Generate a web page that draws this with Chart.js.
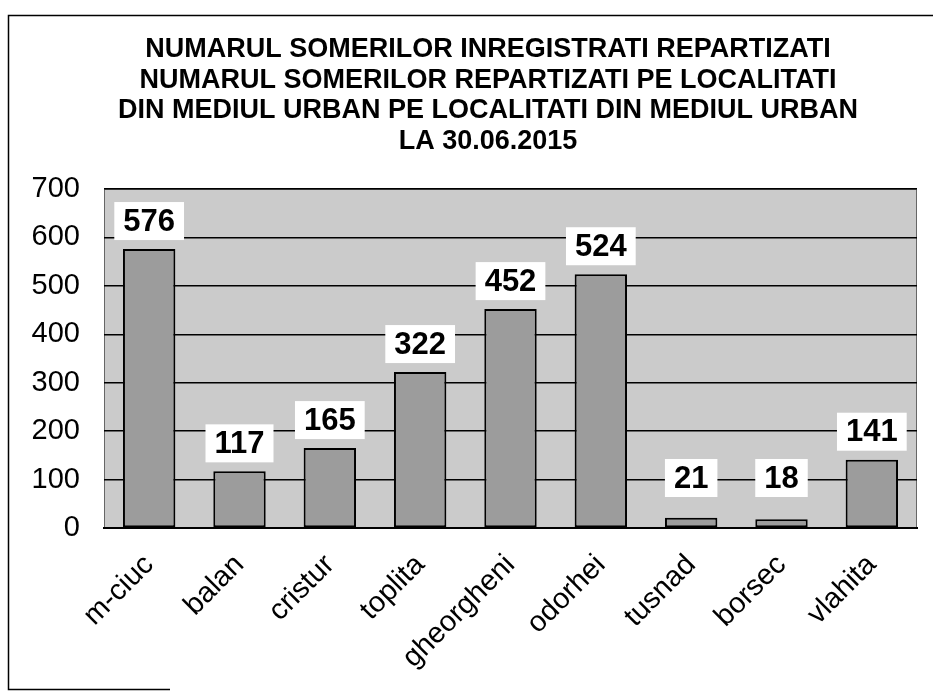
<!DOCTYPE html>
<html>
<head>
<meta charset="utf-8">
<script src="https://cdn.jsdelivr.net/npm/chart.js@4/dist/chart.umd.min.js"></script>
<style>
html,body{margin:0;padding:0;background:#fff;}
#wrap{width:933px;height:691px;position:relative;}
</style>
</head>
<body>
<div id="wrap"><canvas id="c" width="933" height="691"></canvas></div>
<script>
const categories = ["m-ciuc","balan","cristur","toplita","gheorgheni","odorhei","tusnad","borsec","vlahita"];
const values = [576,117,165,322,452,524,21,18,141];
const yTicks = [0,100,200,300,400,500,600,700];
const titleLines = [
  "NUMARUL SOMERILOR INREGISTRATI REPARTIZATI",
  "NUMARUL SOMERILOR REPARTIZATI PE LOCALITATI",
  "DIN MEDIUL URBAN PE LOCALITATI DIN MEDIUL URBAN",
  "LA 30.06.2015"
];

const FONT = "'Liberation Sans', Arial, sans-serif";
Chart.defaults.font.family = FONT;
Chart.defaults.color = '#000';

const plotBg = {
  id: 'plotBg',
  beforeDraw(chart) {
    const {ctx, chartArea: a} = chart;
    ctx.save();
    ctx.fillStyle = '#cbcbcb';
    ctx.fillRect(a.left, a.top, a.right - a.left, a.bottom - a.top);
    ctx.strokeStyle = '#666';
    ctx.lineWidth = 1;
    ctx.strokeRect(a.left + 0.5, a.top + 0.5, a.right - a.left - 1, a.bottom - a.top - 1);
    ctx.restore();
  },
  afterDraw(chart) {
    const {ctx} = chart;
    ctx.save();
    ctx.strokeStyle = '#000';
    ctx.lineWidth = 1.5;
    ctx.beginPath();
    ctx.moveTo(933, 15.5); ctx.lineTo(8.5, 15.5); ctx.lineTo(8.5, 689.5); ctx.lineTo(170, 689.5);
    ctx.stroke();
    // title
    ctx.fillStyle = '#000';
    ctx.font = "bold 27px " + FONT;
    ctx.textAlign = 'center';
    ctx.textBaseline = 'middle';
    titleLines.forEach((t, i) => ctx.fillText(t, 488, 50 + i * 30.5));
    ctx.restore();
  }
};

const valueLabels = {
  id: 'valueLabels',
  afterDatasetsDraw(chart) {
    const {ctx} = chart;
    const meta = chart.getDatasetMeta(0);
    const yScale = chart.scales.y;
    const zeroY = yScale.getPixelForValue(0);
    ctx.save();
    ctx.font = "bold 31px " + FONT;
    ctx.textAlign = 'center';
    ctx.textBaseline = 'middle';
    meta.data.forEach((bar, i) => {
      const txt = String(values[i]);
      const cy = Math.min(bar.y - 28, zeroY - 50);
      const w = ctx.measureText(txt).width + 18;
      const h = 38;
      ctx.fillStyle = '#fff';
      ctx.fillRect(bar.x - w / 2, cy - h / 2, w, h);
      ctx.fillStyle = '#000';
      ctx.fillText(txt, bar.x, cy + 1);
    });
    ctx.restore();
  }
};

new Chart(document.getElementById('c'), {
  type: 'bar',
  data: {
    labels: categories,
    datasets: [{
      data: values,
      backgroundColor: '#9c9c9c',
      borderColor: '#000',
      borderWidth: 2,
      borderSkipped: false,
      categoryPercentage: 1,
      barPercentage: 0.58
    }]
  },
  options: {
    responsive: false,
    animation: false,
    devicePixelRatio: 1,
    layout: { padding: { left: 0, right: 16, top: 189, bottom: 0 } },
    plugins: {
      legend: { display: false },
      tooltip: { enabled: false },
      title: { display: false }
    },
    scales: {
      x: {
        grid: { display: false, drawTicks: false },
        border: { display: true, color: '#000', width: 2 },
        ticks: { font: { size: 29 }, color: '#000', minRotation: 45, maxRotation: 45, padding: 20, autoSkip: false },
        afterFit(s) { s.height = 163; }
      },
      y: {
        min: 0, max: 700,
        afterBuildTicks(s) { s.ticks = yTicks.map(v => ({ value: v })); },
        grid: { color: '#000', lineWidth: 1.5, drawTicks: false },
        border: { display: false },
        ticks: { font: { size: 29 }, color: '#000', padding: 24 },
        afterFit(s) { s.width = 104; }
      }
    }
  },
  plugins: [plotBg, valueLabels]
});
</script>
</body>
</html>
